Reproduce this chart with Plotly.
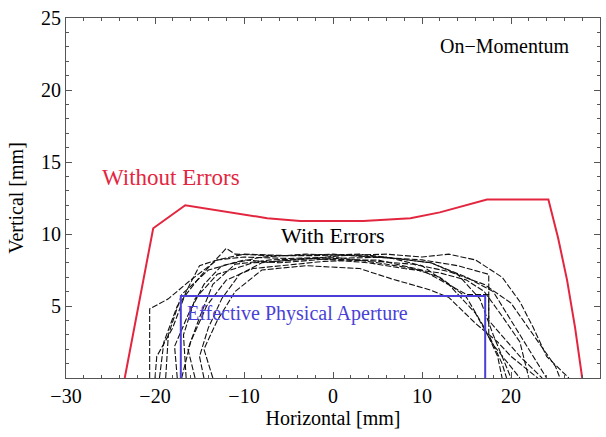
import plotly.graph_objects as go

# Red "Without Errors" boundary
red_x = [-23.4, -21.3, -20.2, -16.6, -7.4, -3.7, 3.4, 8.7, 12.0, 17.3, 24.2, 25.3, 26.3, 27.2, 28.0]
red_y = [0.0, 6.8, 10.4, 12.0, 11.1, 10.9, 10.9, 11.1, 11.5, 12.4, 12.4, 9.7, 6.8, 3.5, 0.0]

# Black dashed "With Errors" boundaries (one per seed)
seed_x = [
    [-20.6, -20.6, -18.5, -16, -13, -10, -5, 0, 5, 9, 12, 15, 17, 18.5, 19],
    [-19.5, -19, -17.5, -15, -12, -11, -7, -2, 3, 8, 11, 14, 16.5, 18, 20],
    [-18.8, -18.5, -17, -14, -10, -6, 0, 6, 10, 13, 16, 18, 21],
    [-17.5, -17.8, -16.2, -14.5, -12.5, -8, -3, 2, 7, 11, 15, 18, 20, 22.5, 24],
    [-16.5, -16.8, -15.5, -13, -9, -4, 1, 6, 10, 13, 16, 19, 21, 22.5, 24, 26.5],
    [-15.5, -16.3, -15, -13.5, -11, -7, -2, 4, 8, 12, 15, 17, 19, 21, 22],
    [-14.5, -15, -14, -12.5, -10.5, -8, -3, 3, 9, 13, 17, 20, 22.5, 25, 25.5],
    [-17, -16, -14.2, -12, -9, -6, -1, 5, 10, 15, 17.5, 17.5, 19, 19.5],
    [-13.5, -14.5, -13, -11, -8, -3, 3, 6.5, 11, 13, 16, 18.5, 20, 23],
    [-20, -19.8, -18, -16.5, -15, -13, -10, -5, 0, 5, 10, 14, 17.5, 17.5, 21, 23.5],
]
seed_y = [
    [0, 4.8, 5.5, 6.8, 8.2, 8.4, 8.3, 8.4, 8.0, 7.6, 7.0, 5.6, 3.5, 1.5, 0],
    [0, 2.5, 5.0, 7.0, 9.0, 8.6, 8.5, 8.5, 8.6, 8.2, 8.0, 7.2, 5.5, 3.0, 0],
    [0, 3.0, 5.8, 7.5, 8.2, 8.0, 8.3, 8.4, 7.8, 6.5, 4.5, 2.3, 0],
    [0, 2.2, 4.5, 6.5, 7.8, 8.4, 8.6, 8.5, 8.3, 8.0, 7.0, 6.0, 4.0, 1.5, 0],
    [0, 3.0, 5.5, 7.2, 8.0, 8.2, 8.5, 8.6, 8.4, 8.6, 8.2, 7.0, 5.3, 3.5, 1.5, 0],
    [0, 2.0, 4.2, 6.5, 7.9, 8.2, 8.3, 8.0, 7.6, 7.3, 6.8, 6.0, 4.3, 2.5, 0],
    [0, 1.5, 3.5, 5.5, 7.2, 8.0, 8.3, 8.2, 7.9, 7.4, 6.5, 5.2, 3.0, 0.8, 0],
    [0, 2.5, 5.0, 6.8, 7.6, 7.8, 8.1, 8.2, 7.5, 5.8, 5.8, 3.0, 1.0, 0],
    [0, 2.0, 4.0, 6.0, 7.5, 7.8, 7.6, 6.9, 6.1, 5.6, 3.8, 2.5, 1.5, 0],
    [0, 1.5, 3.5, 6.0, 7.8, 8.2, 8.6, 8.5, 8.6, 8.4, 8.2, 7.8, 7.2, 4.0, 1.5, 0],
]

# Effective physical aperture rectangle
ap_x = [-17.1, -17.1, 17.1, 17.1]
ap_y = [0.0, 5.7, 5.7, 0.0]

x_ticks = [-30, -20, -10, 0, 10, 20, 30]
y_ticks = [5, 10, 15, 20, 25]

FONT = "Liberation Serif"

fig = go.Figure()
for sx, sy in zip(seed_x, seed_y):
    fig.add_trace(go.Scatter(x=sx, y=sy, mode="lines",
                             line=dict(color="#111111", width=1.1, dash="6px,2px"),
                             showlegend=False, hoverinfo="skip"))
fig.add_trace(go.Scatter(x=red_x, y=red_y, mode="lines",
                         line=dict(color="#e3263f", width=2), showlegend=False))
fig.add_trace(go.Scatter(x=ap_x, y=ap_y, mode="lines",
                         line=dict(color="#4a3fd6", width=2), showlegend=False))

fig.add_annotation(x=19.3, y=23.05, text="On\u2212Momentum", showarrow=False,
                   font=dict(family=FONT, size=20, color="black"))
fig.add_annotation(x=-18.2, y=13.9, text="Without Errors", showarrow=False,
                   font=dict(family=FONT, size=23, color="#e3263f"))
fig.add_annotation(x=0, y=9.9, text="With Errors", showarrow=False,
                   font=dict(family=FONT, size=22, color="black"))
fig.add_annotation(x=-16.6, y=4.45, text="Effective Physical Aperture", showarrow=False,
                   xanchor="left", font=dict(family=FONT, size=20, color="#4a3fd6"))

axis_common = dict(showgrid=False, zeroline=False, showline=True, linecolor="#555555",
                   linewidth=1, mirror="allticks", ticks="inside", ticklen=6,
                   tickcolor="#555555", tickfont=dict(family=FONT, size=20, color="black"))

fig.update_xaxes(range=[-30, 30], tickvals=x_ticks,
                 ticktext=[("\u2212" + str(-v)) if v < 0 else str(v) for v in x_ticks],
                 minor=dict(dtick=2, tick0=0, ticks="inside", ticklen=3, tickcolor="#555555"),
                 title=dict(text="Horizontal [mm]", font=dict(family=FONT, size=20, color="black"),
                            standoff=4),
                 **axis_common)
fig.update_yaxes(range=[0, 25], tickvals=y_ticks,
                 minor=dict(dtick=1, tick0=0, ticks="inside", ticklen=3, tickcolor="#555555"),
                 title=dict(text="Vertical [mm]", font=dict(family=FONT, size=20, color="black"),
                            standoff=12),
                 **axis_common)

fig.update_layout(width=606, height=437, margin=dict(l=66, r=6, t=18, b=59),
                  plot_bgcolor="white", paper_bgcolor="white",
                  font=dict(family=FONT))

fig.write_html("out.html")
